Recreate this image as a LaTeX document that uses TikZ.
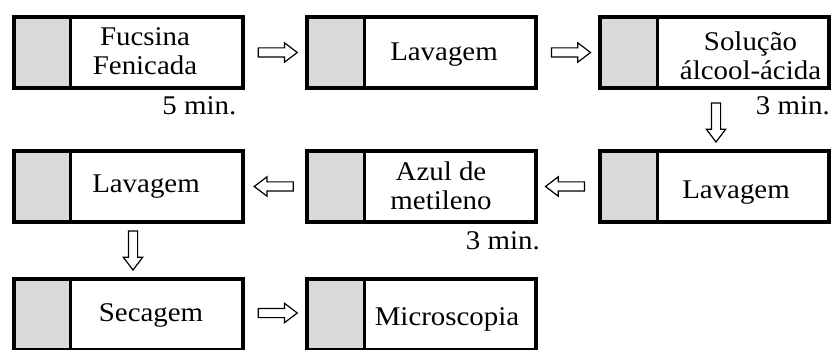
\documentclass[tikz,border=0pt]{standalone}
\usepackage{fontspec}
\setmainfont[FakeStretch=1.07]{Liberation Serif}
\usetikzlibrary{shapes.arrows,calc}
\definecolor{slidegray}{RGB}{217,217,217}
\begin{document}
\begin{tikzpicture}[x=1pt,y=-1pt,
  slide/.style={draw=black, line width=4pt, minimum width=229pt, minimum height=71pt,
    inner sep=0pt, fill=white,
    path picture={
      \fill[slidegray] (path picture bounding box.north west) rectangle ([xshift=57pt]path picture bounding box.south west);
      \draw[line width=3pt] ([xshift=57pt]path picture bounding box.north west) -- ([xshift=57pt]path picture bounding box.south west);
    }},
  lbl/.style={font=\fontsize{27}{29}\selectfont, align=center, inner sep=0pt},
  tlbl/.style={font=\fontsize{27}{29}\selectfont, anchor=base east, inner sep=0pt},
  blk/.style={single arrow, draw=black, line width=1.2pt, fill=white,
    minimum height=39pt, inner xsep=0pt, inner ysep=4pt,
    text height=0pt, text depth=0pt, text width=0pt,
    single arrow head extend=5pt, single arrow tip angle=74}
]
\useasboundingbox (0,0) rectangle (836,350);

% slides
\node[slide] (b1) at (128,52.5) {};
\node[slide] (b2) at (421.5,52.5) {};
\node[slide] (b3) at (714.5,52.5) {};
\node[slide] (b4) at (714.5,186.5) {};
\node[slide] (b5) at (421.5,186.5) {};
\node[slide] (b6) at (128,186.5) {};
\node[slide] (b7) at (128,314.5) {};
\node[slide] (b8) at (421.5,314.5) {};

% texts
\node[lbl] (t1) at ($(b1.center)+(17,-1)$) {Fucsina\\Fenicada};
\node[lbl] (t2) at ($(b2.center)+(22.5,2.5)$) {Lavagem};
\node[lbl] (t3) at ($(b3.center)+(36,3)$) {Solução\\álcool-ácida};
\node[lbl] (t4) at ($(b4.center)+(21.5,6)$) {Lavagem};
\node[lbl] (t5) at ($(b5.center)+(19.5,-1)$) {Azul de\\metileno};
\node[lbl] (t6) at ($(b6.center)+(18,0)$) {Lavagem};
\node[lbl] (t7) at ($(b7.center)+(23,0.5)$) {Secagem};
\node[lbl] (t8) at ($(b8.center)+(25.5,5)$) {Microscopia};

% times
\node[tlbl] (m1) at ($(b1.south east)+(-8,25)$) {5 min.};
\node[tlbl] (m2) at ($(b3.south east)+(-1,25)$) {3 min.};
\node[tlbl] (m3) at ($(b5.south east)+(2,25)$) {3 min.};

% arrows
\node[blk] (a1) at ($(b1.east)!0.5!(b2.west)$) {};
\node[blk] (a2) at ($(b2.east)!0.5!(b3.west)$) {};
\node[blk, rotate=-90] (a3) at ($(b3.south)!0.5!(b4.north)+(1.5,0)$) {};
\node[blk, rotate=180] (a4) at ($(b4.west)!0.5!(b5.east)$) {};
\node[blk, rotate=180] (a5) at ($(b5.west)!0.5!(b6.east)+(2,0)$) {};
\node[blk, rotate=-90] (a6) at ($(b6.south)!0.5!(b7.north)+(5,-3)$) {};
\node[blk] (a7) at ($(b7.east)!0.5!(b8.west)+(0,-1.5)$) {};
\end{tikzpicture}
\end{document}
